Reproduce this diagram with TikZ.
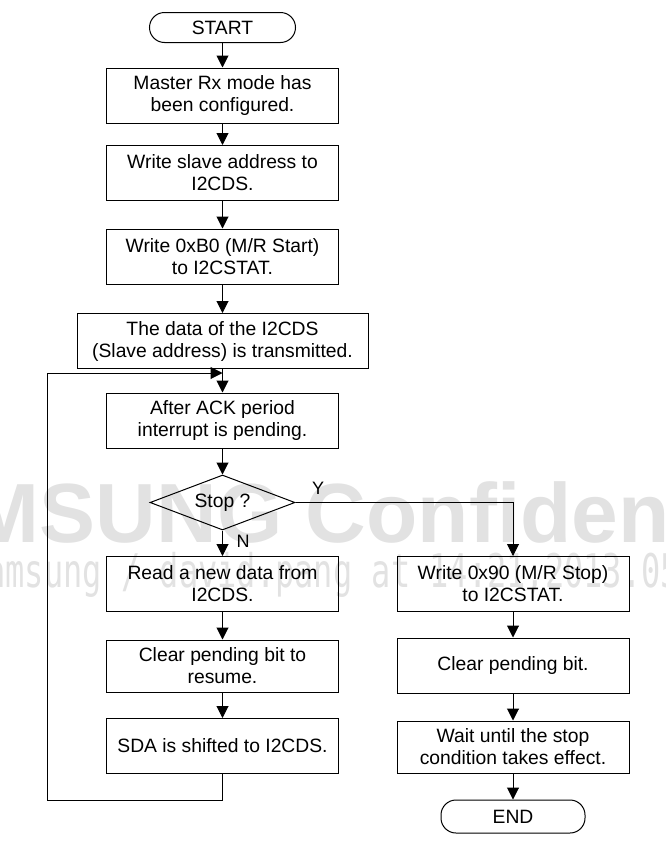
\documentclass[tikz,border=0pt]{standalone}
\usepackage{fontspec}
\setmainfont{Liberation Sans}
\newfontfamily\wmmono{DejaVu Sans Mono}
\usetikzlibrary{shapes.geometric,arrows.meta}
\definecolor{wmgray}{RGB}{226,226,226}
\begin{document}
\begin{tikzpicture}[x=1pt,y=-1pt,
  txt/.style={font=\fontsize{19.3}{22}\selectfont},
  box/.style={draw,line width=1pt,minimum width=232pt,minimum height=55pt,inner sep=0pt,align=center,txt},
  term/.style={draw,line width=1pt,rounded corners=15pt,minimum width=146pt,minimum height=30pt,inner sep=0pt,txt},
  dia/.style={draw,diamond,aspect=2.64,minimum width=145pt,minimum height=55pt,inner sep=0pt,line width=1pt,txt},
  arr/.style={line width=1pt,-{Triangle[length=12pt,width=12pt]}},
  lbl/.style={inner sep=0pt,font=\fontsize{18}{20}\selectfont},
  wmbig/.style={anchor=base west,inner sep=0pt,text=wmgray,font=\fontsize{84}{84}\selectfont\bfseries},
  wmsmall/.style={anchor=base west,inner sep=0pt,text=wmgray,font=\wmmono\fontsize{32}{32}\selectfont}]
\useasboundingbox (0,0) rectangle (665,854);
\begin{scope}
  \clip (0,0) rectangle (665,854);
  \node[wmbig] (wm1) at (-147,542) {SAMSUNG Confidential};
  \node[wmsmall] (wm2) at (-33,587) {\scalebox{1}[1.45]{samsung / david.pang at 14:21,2013.05}};
\end{scope}

\node[term] (start) at (222.5,27.5) {START};
\node[box] (b1) at (222.5,95.5) {Master Rx mode has\\been configured.};
\node[box] (b2) at (222.5,173) {Write slave address to\\I2CDS.};
\node[box] (b3) at (222.5,256.5) {Write 0xB0 (M/R Start)\\to I2CSTAT.};
\node[box,minimum width=291pt] (b4) at (222.5,341) {The data of the I2CDS\\(Slave address) is transmitted.};
\node[box] (b5) at (222.5,420.5) {After ACK period\\interrupt is pending.};
\node[dia] (dec) at (222.5,502.5) {Stop ?};
\node[box] (b6) at (222.5,584) {Read a new data from\\I2CDS.};
\node[box,minimum height=52pt] (b7) at (222.5,666) {Clear pending bit to\\resume.};
\node[box] (b8) at (222.5,746) {SDA is shifted to I2CDS.};
\node[box] (r1) at (513,584) {Write 0x90 (M/R Stop)\\to I2CSTAT.};
\node[box] (r2) at (513,665.5) {Clear pending bit.};
\node[box,minimum height=52pt] (r3) at (513,747) {Wait until the stop\\condition takes effect.};
\node[term,minimum width=144pt,minimum height=33pt] (end) at (513,816.5) {END};

\node[lbl] (ylab) at (318,488) {Y};
\node[lbl] (nlab) at (243,541) {N};

\coordinate (lb) at (47,800);
\coordinate (lt) at (47,373);
\coordinate (jn) at (222.5,373);

\draw[arr] (start) -- (b1);
\draw[arr] (b1) -- (b2);
\draw[arr] (b2) -- (b3);
\draw[arr] (b3) -- (b4);
\draw[arr] (b4) -- (b5);
\draw[arr] (b5) -- (dec);
\draw[arr] (dec) -- (b6);
\draw[arr] (b6) -- (b7);
\draw[arr] (b7) -- (b8);
\draw[arr] (b8.south) |- (lb) -- (lt) -- (jn);
\draw[arr] (dec.east) -| (r1.north);
\draw[arr] (r1) -- (r2);
\draw[arr] (r2) -- (r3);
\draw[arr] (r3) -- (end);
\end{tikzpicture}
\end{document}
